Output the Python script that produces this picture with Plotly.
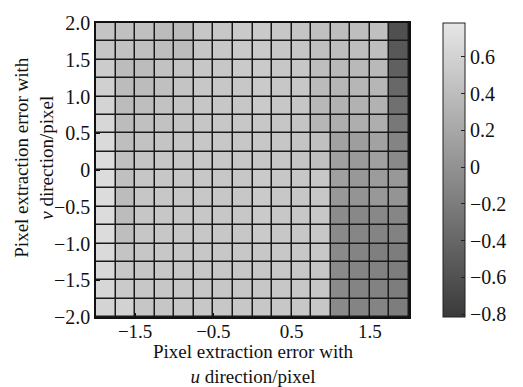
import plotly.graph_objects as go

x_centers = [-1.875 + 0.25 * i for i in range(16)]
y_centers = [-1.875 + 0.25 * i for i in range(16)]

# rows listed top (y=1.875) to bottom (y=-1.875)
z_top_to_bottom = [
    [0.47, 0.43, 0.43, 0.39, 0.39, 0.50, 0.50, 0.52, 0.52, 0.50, 0.47, 0.43, 0.41, 0.41, 0.43, -0.61],
    [0.49, 0.45, 0.43, 0.41, 0.39, 0.49, 0.50, 0.52, 0.52, 0.50, 0.49, 0.43, 0.41, 0.41, 0.41, -0.54],
    [0.54, 0.39, 0.39, 0.45, 0.47, 0.50, 0.50, 0.52, 0.52, 0.50, 0.50, 0.41, 0.37, 0.37, 0.37, -0.46],
    [0.58, 0.39, 0.39, 0.43, 0.47, 0.50, 0.50, 0.50, 0.52, 0.50, 0.50, 0.38, 0.34, 0.34, 0.34, -0.39],
    [0.62, 0.39, 0.41, 0.45, 0.47, 0.49, 0.50, 0.50, 0.52, 0.50, 0.49, 0.36, 0.30, 0.30, 0.30, -0.31],
    [0.64, 0.39, 0.43, 0.45, 0.47, 0.49, 0.50, 0.50, 0.50, 0.49, 0.47, 0.34, 0.26, 0.26, 0.26, -0.24],
    [0.67, 0.41, 0.45, 0.47, 0.49, 0.50, 0.50, 0.50, 0.50, 0.49, 0.47, 0.43, 0.15, 0.11, 0.15, -0.13],
    [0.69, 0.43, 0.47, 0.49, 0.49, 0.50, 0.50, 0.50, 0.50, 0.49, 0.47, 0.43, 0.13, 0.08, 0.13, -0.08],
    [0.69, 0.43, 0.49, 0.50, 0.50, 0.50, 0.50, 0.50, 0.52, 0.50, 0.50, 0.50, 0.13, 0.06, 0.10, 0.06],
    [0.69, 0.39, 0.49, 0.50, 0.50, 0.50, 0.50, 0.50, 0.52, 0.50, 0.50, 0.50, 0.06, 0.02, 0.06, 0.02],
    [0.69, 0.39, 0.49, 0.50, 0.50, 0.50, 0.50, 0.50, 0.52, 0.50, 0.50, 0.50, -0.05, -0.09, -0.09, -0.11],
    [0.69, 0.41, 0.49, 0.50, 0.50, 0.50, 0.50, 0.50, 0.52, 0.50, 0.50, 0.50, -0.07, -0.11, -0.13, -0.15],
    [0.67, 0.47, 0.49, 0.50, 0.50, 0.50, 0.50, 0.50, 0.50, 0.50, 0.50, 0.50, -0.07, -0.13, -0.17, -0.19],
    [0.65, 0.50, 0.49, 0.50, 0.50, 0.50, 0.50, 0.50, 0.50, 0.50, 0.50, 0.50, -0.07, -0.13, -0.15, -0.19],
    [0.64, 0.52, 0.50, 0.50, 0.50, 0.50, 0.50, 0.50, 0.50, 0.50, 0.50, 0.50, -0.07, -0.13, -0.15, -0.19],
    [0.62, 0.60, 0.49, 0.49, 0.50, 0.50, 0.50, 0.50, 0.50, 0.50, 0.50, 0.50, -0.07, -0.13, -0.13, -0.19],
]
z = z_top_to_bottom[::-1]

x_tickvals = [-1.5, -0.5, 0.5, 1.5]
x_ticktext = ["−1.5", "−0.5", "0.5", "1.5"]
y_tickvals = [2.0, 1.5, 1.0, 0.5, 0.0, -0.5, -1.0, -1.5, -2.0]
y_ticktext = ["2.0", "1.5", "1.0", "0.5", "0", "−0.5", "−1.0", "−1.5", "−2.0"]
cb_tickvals = [0.6, 0.4, 0.2, 0.0, -0.2, -0.4, -0.6, -0.8]
cb_ticktext = ["0.6", "0.4", "0.2", "0", "−0.2", "−0.4", "−0.6", "−0.8"]

x_title = "Pixel extraction error with<br><i>u</i> direction/pixel"
y_title = "Pixel extraction error with<br><i>v</i> direction/pixel"

FONT = "Liberation Serif"
FS = 20
TFS = 19
INK = "#111"

fig = go.Figure(
    go.Heatmap(
        x=x_centers,
        y=y_centers,
        z=z,
        zmin=-0.816,
        zmax=0.784,
        colorscale=[[0, "rgb(58,58,58)"], [1, "rgb(230,230,230)"]],
        xgap=1.5,
        ygap=1.5,
        colorbar=dict(
            x=1.109,
            xanchor="left",
            y=0.5,
            yanchor="middle",
            len=1.0,
            lenmode="fraction",
            thickness=22,
            outlinecolor="#222",
            outlinewidth=1,
            ticks="inside",
            ticklen=4,
            tickcolor="#222",
            tickvals=cb_tickvals,
            ticktext=cb_ticktext,
            tickfont=dict(family=FONT, size=FS, color=INK),
            xpad=0,
            ypad=0,
        ),
    )
)

fig.update_layout(
    width=523,
    height=387,
    margin=dict(l=96, r=107, t=13, b=70),
    paper_bgcolor="white",
    plot_bgcolor="#1a1a1a",
    font=dict(family=FONT, size=FS, color=INK),
)
fig.update_xaxes(
    range=[-2, 2],
    tickvals=x_tickvals,
    ticktext=x_ticktext,
    ticks="inside",
    ticklen=4,
    tickcolor=INK,
    ticklabelstandoff=-4,
    showgrid=False,
    zeroline=False,
    showline=True,
    linecolor=INK,
    linewidth=1.5,
    mirror=True,
    tickfont=dict(family=FONT, size=19),
)
fig.update_yaxes(
    range=[-2, 2],
    tickvals=y_tickvals,
    ticktext=y_ticktext,
    ticks="inside",
    ticklen=4,
    tickcolor=INK,
    showgrid=False,
    zeroline=False,
    showline=True,
    linecolor=INK,
    linewidth=1.5,
    mirror=True,
    tickfont=dict(family=FONT, size=FS),
)

fig.add_annotation(text=x_title, xref="paper", yref="paper", x=0.5, y=-0.16,
                   xanchor="center", yanchor="middle", showarrow=False,
                   font=dict(family=FONT, size=TFS, color=INK))
fig.add_annotation(text=y_title, xref="paper", yref="paper", x=-0.197, y=0.543,
                   xanchor="center", yanchor="middle", textangle=-90,
                   showarrow=False, font=dict(family=FONT, size=TFS, color=INK))

fig.write_html("out.html")
